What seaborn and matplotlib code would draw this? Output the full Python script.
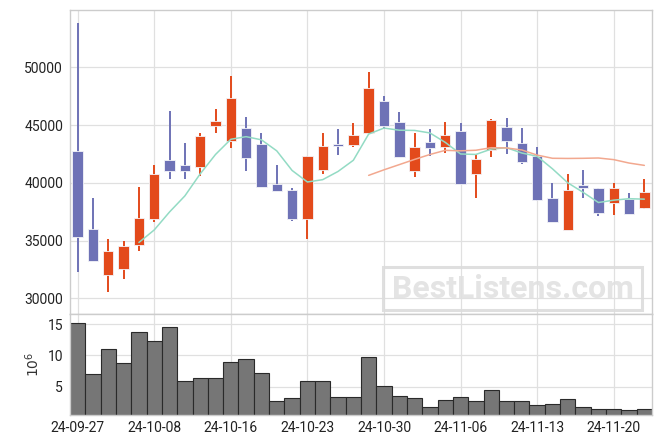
import pandas as pd
import numpy as np
import matplotlib
matplotlib.use("Agg")
import matplotlib.pyplot as plt
import seaborn as sns
from matplotlib.patches import Rectangle

# trading days (KRX, 2024)
dates = ["24-09-27", "24-09-30", "24-10-02", "24-10-04", "24-10-07", "24-10-08",
         "24-10-10", "24-10-11", "24-10-14", "24-10-15", "24-10-16", "24-10-17",
         "24-10-18", "24-10-21", "24-10-22", "24-10-23", "24-10-24", "24-10-25",
         "24-10-28", "24-10-29", "24-10-30", "24-10-31", "24-11-01", "24-11-04",
         "24-11-05", "24-11-06", "24-11-07", "24-11-08", "24-11-11", "24-11-12",
         "24-11-13", "24-11-14", "24-11-15", "24-11-18", "24-11-19", "24-11-20",
         "24-11-21", "24-11-22"]

opens = [42730, 36000, 32040, 32560, 34640, 36870, 41980, 41540, 41400, 44950,
         43650, 44750, 43360, 39900, 39380, 36870, 41110, 43360, 43300, 44290,
         47110, 45240, 41050, 43540, 43070, 44490, 40740, 42820, 44810, 43420,
         42320, 38660, 35920, 39810, 39530, 38280, 38570, 37850]
closes = [35335, 33260, 34100, 34530, 36950, 40760, 41050, 41050, 44060, 45350,
          47350, 42180, 39670, 39290, 36870, 42350, 43190, 43220, 44140, 48210,
          44950, 42260, 43130, 43040, 44140, 39920, 42060, 45440, 43650, 41830,
          38510, 36640, 39380, 39530, 37410, 39530, 37280, 39180]
highs = [53870, 38710, 35160, 34960, 39610, 41520, 46190, 43420, 44290, 46390,
         49230, 45730, 44290, 41520, 39580, 42350, 44290, 44640, 45210, 49570,
         47550, 46160, 44340, 44640, 45290, 45150, 42500, 45500, 45590, 44720,
         43130, 39960, 40740, 41110, 39530, 39960, 39090, 40300]
lows = [32300, 33260, 30570, 31650, 34070, 36580, 40300, 40300, 40590, 44290,
        43020, 41020, 39600, 39290, 36720, 35110, 40740, 42410, 43070, 44200,
        44660, 42260, 40530, 42320, 42560, 39920, 38660, 42210, 42500, 41600,
        38450, 36600, 35920, 38660, 37130, 37210, 37280, 37710]
# volume, millions
volumes = [15.16, 7.03, 11.04, 8.80, 13.77, 12.32, 14.57, 5.91, 6.39, 6.39,
           8.96, 9.44, 7.19, 2.71, 3.19, 5.91, 5.91, 3.35, 3.35, 9.76,
           5.11, 3.51, 3.19, 1.75, 2.87, 3.35, 2.71, 4.47, 2.71, 2.71,
           2.07, 2.23, 3.03, 1.75, 1.43, 1.43, 1.27, 1.43]

df = pd.DataFrame({"date": dates, "open": opens, "close": closes,
                   "high": highs, "low": lows, "volume": volumes})
df["idx"] = np.arange(len(df))
df["ma5"] = df["close"].rolling(5).mean()
df["ma20"] = df["close"].rolling(20).mean()

up_color = "#e34a1b"
down_color = "#6e72b6"

sns.set_theme(style="whitegrid")
plt.rcParams["font.family"] = ["Roboto", "DejaVu Sans"]

fig = plt.figure(figsize=(6.61, 4.44), dpi=100)
ax = fig.add_axes([0.1059, 0.2928, 0.8805, 0.6858])
axv = fig.add_axes([0.1059, 0.0653, 0.8805, 0.2275], sharex=ax)

# candles
up = df["close"] >= df["open"]
colors = np.where(up, up_color, down_color)
ax.vlines(df["idx"], df["low"], df["high"], colors=colors, linewidth=1.4, zorder=2)
ax.bar(df["idx"], (df["close"] - df["open"]).abs(),
       bottom=df[["open", "close"]].min(axis=1), width=0.68,
       color=colors, edgecolor="#f4f4f8", linewidth=0.6, zorder=3)

sns.lineplot(data=df, x="idx", y="ma5", ax=ax, color="#93dbc4", linewidth=1.1, zorder=4)
sns.lineplot(data=df, x="idx", y="ma20", ax=ax, color="#f2a88f", linewidth=1.1, zorder=4)

ax.set_ylim(28640, 55010)
ax.set_yticks([30000, 35000, 40000, 45000, 50000])
ax.set_xlabel("")
ax.set_ylabel("")
ax.tick_params(axis="x", labelbottom=False, length=0)
ax.tick_params(axis="y", length=0, pad=5, labelsize=10, colors="#222222")

# volume
sns.barplot(data=df, x="idx", y="volume", ax=axv, color="#767676",
            edgecolor="#2a2a2a", linewidth=0.8, width=1.0, saturation=1, zorder=2)
axv.set_ylim(0.45, 16.6)
axv.set_yticks([5, 10, 15])
axv.set_ylabel(r"$10^6$", fontsize=10, labelpad=4, color="#333333")
axv.set_xlabel("")
ticks = list(range(0, len(dates), 5))
axv.set_xticks(ticks)
axv.set_xticklabels([dates[i] for i in ticks])
axv.set_xlim(-0.5, 37.5)
axv.tick_params(axis="both", length=0, labelsize=10, colors="#222222")
axv.tick_params(axis="x", pad=4)
axv.tick_params(axis="y", pad=5)

for a in (ax, axv):
    a.grid(True, color="#e0e0e0", linewidth=0.9)
    a.set_axisbelow(True)
    for s in a.spines.values():
        s.set_color("#cccccc")
        s.set_linewidth(1.0)

# watermark
fig.patches.append(Rectangle((383 / 661, 1 - 310 / 444), 259 / 661, 43 / 444,
                             transform=fig.transFigure, fill=False,
                             edgecolor="#dcdcdc", linewidth=2.2, alpha=0.9, zorder=10))
fig.text(512.5 / 661, 1 - 289 / 444, "BestListens.com", ha="center", va="center",
         fontsize=23, fontweight="bold", color="#e1e1e1", alpha=0.9, zorder=10)

plt.savefig("out.png", dpi=100)
